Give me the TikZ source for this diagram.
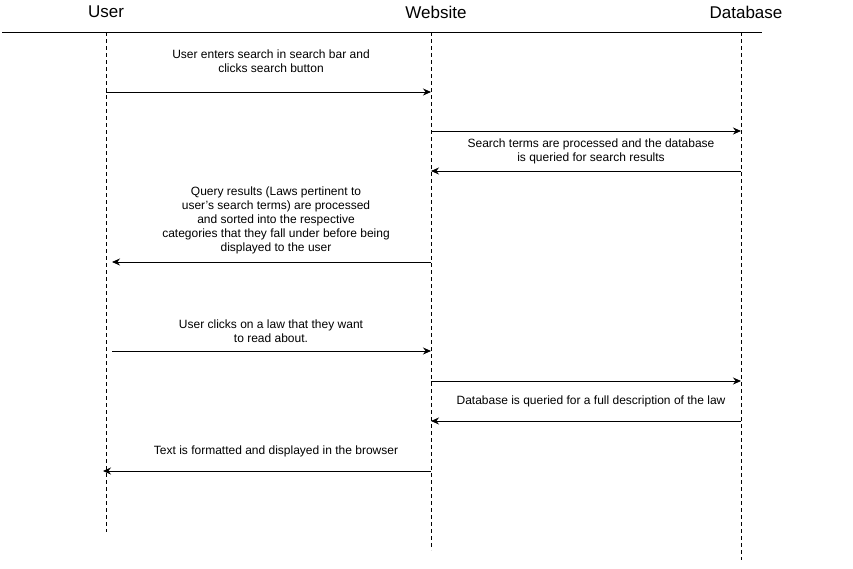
\documentclass[tikz,border=0pt]{standalone}
\usepackage{fontspec}
\setmainfont{Liberation Sans}
\usetikzlibrary{arrows.meta}
\begin{document}
\begin{tikzpicture}[x=1pt,y=-1pt,
        head/.style={font=\fontsize{17}{19}\selectfont},
        life/.style={dash pattern=on 4pt off 3pt, line width=0.8pt},
        msg/.style={-{Stealth[length=8pt,width=7pt]}, line width=0.9pt},
        note/.style={font=\fontsize{12}{14}\selectfont, align=center, inner sep=0pt}]
    \useasboundingbox (0,0) rectangle (853,568);

        \node[head] (user) at (106,12) {User};
        \node[head] (web)  at (436,12) {Website};
        \node[head] (db)   at (746,12) {Database};

        \coordinate (l1) at (2,32);
        \coordinate (l2) at (762,32);
        \draw [line width=0.9pt] (l1) -- (l2);

        \coordinate (u0) at (106,32);
        \coordinate (uE) at (106,532);
        \coordinate (w0) at (431,32);
        \coordinate (wE) at (431,550);
        \coordinate (d0) at (741,32);
        \coordinate (dE) at (741,560);
        \path [life] (u0) edge (uE);
        \path [life] (w0) edge (wE);
        \path [life] (d0) edge (dE);

        \coordinate (u1) at (106,92);
        \coordinate (w1) at (431,92);
        \coordinate (w2) at (431,131);
        \coordinate (d2) at (741,131);
        \coordinate (d3) at (741,171);
        \coordinate (w3) at (431,171);
        \coordinate (w4) at (431,262);
        \coordinate (u4) at (112,262);
        \coordinate (u5) at (112,351);
        \coordinate (w5) at (431,351);
        \coordinate (w6) at (431,381);
        \coordinate (d6) at (741,381);
        \coordinate (d7) at (741,421);
        \coordinate (w7) at (431,421);
        \coordinate (w8) at (431,471);
        \coordinate (u8) at (103,471);

        \node[note] (t1) at (271,61) {User enters search in search bar and\\clicks search button};
        \node[note] (t3) at (591,151) {Search terms are processed and the database\\is queried for search results};
        \node[note] (t4) at (276,220) {Query results (Laws pertinent to\\user's search terms) are processed\\and sorted into the respective\\categories that they fall under before being\\displayed to the user};
        \node[note] (t5) at (271,331) {User clicks on a law that they want\\to read about.};
        \node[note] (t7) at (591,401) {Database is queried for a full description of the law};
        \node[note] (t8) at (276,451) {Text is formatted and displayed in the browser};

        \path [msg] (u1) edge (w1);
        \path [msg] (w2) edge (d2);
        \path [msg] (d3) edge (w3);
        \path [msg] (w4) edge (u4);
        \path [msg] (u5) edge (w5);
        \path [msg] (w6) edge (d6);
        \path [msg] (d7) edge (w7);
        \path [msg] (w8) edge (u8);
\end{tikzpicture}
\end{document}
